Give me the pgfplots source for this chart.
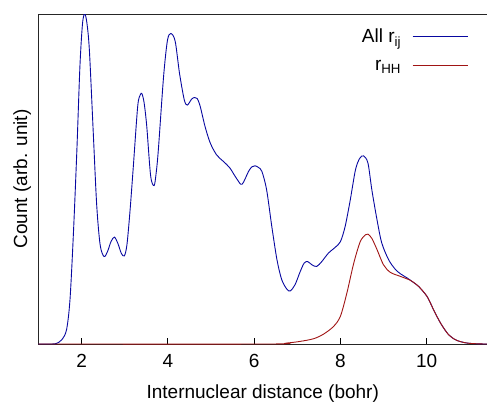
\documentclass[border=0pt]{standalone}
\usepackage{pgfplots}
\pgfplotsset{compat=1.18}
\usepackage{pgfplotstable}
\usepackage{fontspec}
\setmainfont{Liberation Sans}
\definecolor{cblue}{HTML}{0808A0}
\definecolor{cred}{HTML}{A01414}
\pgfplotstableread{
x y
1.0 0
1.3 0
1.42 0.002
1.54 0.013
1.65 0.043
1.73 0.134
1.81 0.336
1.89 0.588
1.96 0.84
2.02 0.97
2.07 1.0
2.12 0.975
2.18 0.89
2.27 0.64
2.35 0.42
2.43 0.30
2.52 0.265
2.60 0.28
2.68 0.31
2.76 0.324
2.84 0.305
2.92 0.275
2.99 0.267
3.05 0.30
3.12 0.40
3.20 0.54
3.30 0.72
3.36 0.755
3.40 0.758
3.45 0.73
3.51 0.66
3.60 0.51
3.68 0.48
3.73 0.52
3.78 0.59
3.90 0.81
3.99 0.92
4.07 0.941
4.17 0.917
4.27 0.82
4.38 0.74
4.45 0.724
4.55 0.742
4.62 0.747
4.68 0.744
4.75 0.72
4.86 0.66
4.98 0.61
5.13 0.573
5.29 0.553
5.44 0.533
5.60 0.50
5.72 0.484
5.87 0.523
5.95 0.537
6.02 0.54
6.10 0.535
6.18 0.523
6.29 0.467
6.41 0.356
6.53 0.255
6.64 0.195
6.76 0.166
6.84 0.161
6.95 0.18
7.07 0.22
7.16 0.245
7.24 0.25
7.34 0.24
7.45 0.235
7.57 0.25
7.72 0.275
7.88 0.293
8.0 0.31
8.11 0.356
8.23 0.437
8.35 0.528
8.45 0.563
8.54 0.57
8.64 0.548
8.73 0.467
8.85 0.376
8.96 0.306
9.12 0.255
9.27 0.227
9.39 0.213
9.55 0.200
9.70 0.186
9.81 0.175
10.01 0.144
10.16 0.104
10.32 0.064
10.51 0.028
10.70 0.011
10.93 0.003
11.2 0.0005
11.4 0
}\allrij
\pgfplotstableread{
x y
1.0 0
6.3 0
6.76 0.003
7.07 0.008
7.38 0.016
7.61 0.03
7.84 0.053
8.0 0.084
8.15 0.154
8.31 0.245
8.46 0.31
8.58 0.331
8.64 0.333
8.73 0.32
8.85 0.286
9.0 0.24
9.16 0.217
9.39 0.205
9.62 0.193
9.81 0.175
10.01 0.144
10.16 0.104
10.32 0.064
10.51 0.028
10.70 0.011
10.93 0.003
11.2 0.0005
11.4 0
}\rhh
\begin{document}
\begin{tikzpicture}
\begin{axis}[
  name=ax,
  scale only axis,
  width=448.5pt, height=330pt,
  xmin=1, xmax=11.4, ymin=0, ymax=1,
  xtick={2,4,6,8,10},
  ytick=\empty,
  xtick pos=bottom,
  tick align=inside,
  major tick length=6pt,
  axis line style={line width=0.9pt, black!85},
  every tick/.style={black, line width=0.8pt},
  tick label style={font=\fontsize{19}{22}\selectfont},
  xticklabel style={yshift=-7pt},
  /pgf/number format/assume math mode=true,
  xlabel={Internuclear distance (bohr)},
  ylabel={Count (arb. unit)},
  label style={font=\fontsize{19}{22}\selectfont},
  xlabel style={yshift=-10pt},
  ylabel style={yshift=4pt},
  legend style={draw=none, fill=none, at={(0.958,0.962)}, anchor=north east,
    font=\fontsize{19}{22}\selectfont, row sep=12pt, column sep=9pt, inner sep=0pt},
  legend cell align=right,
  legend plot pos=right,
  legend image code/.code={\draw[mark repeat=2,mark phase=2,#1] plot coordinates {(0pt,0pt) (27pt,0pt) (55pt,0pt)};},
]
\addplot[color=cblue, line width=0.9pt, smooth, tension=0.5] table[x=x,y=y] {\allrij};
\addlegendentry{All r\textsubscript{ij}}
\addplot[color=cred, line width=0.9pt, smooth, tension=0.5] table[x=x,y=y] {\rhh};
\addlegendentry{r\textsubscript{HH}}
\end{axis}
\pgfresetboundingbox
\path ([shift={(-38.5pt,-61pt)}]ax.south west) rectangle ([shift={(0pt,14pt)}]ax.north east);
\end{tikzpicture}
\end{document}
